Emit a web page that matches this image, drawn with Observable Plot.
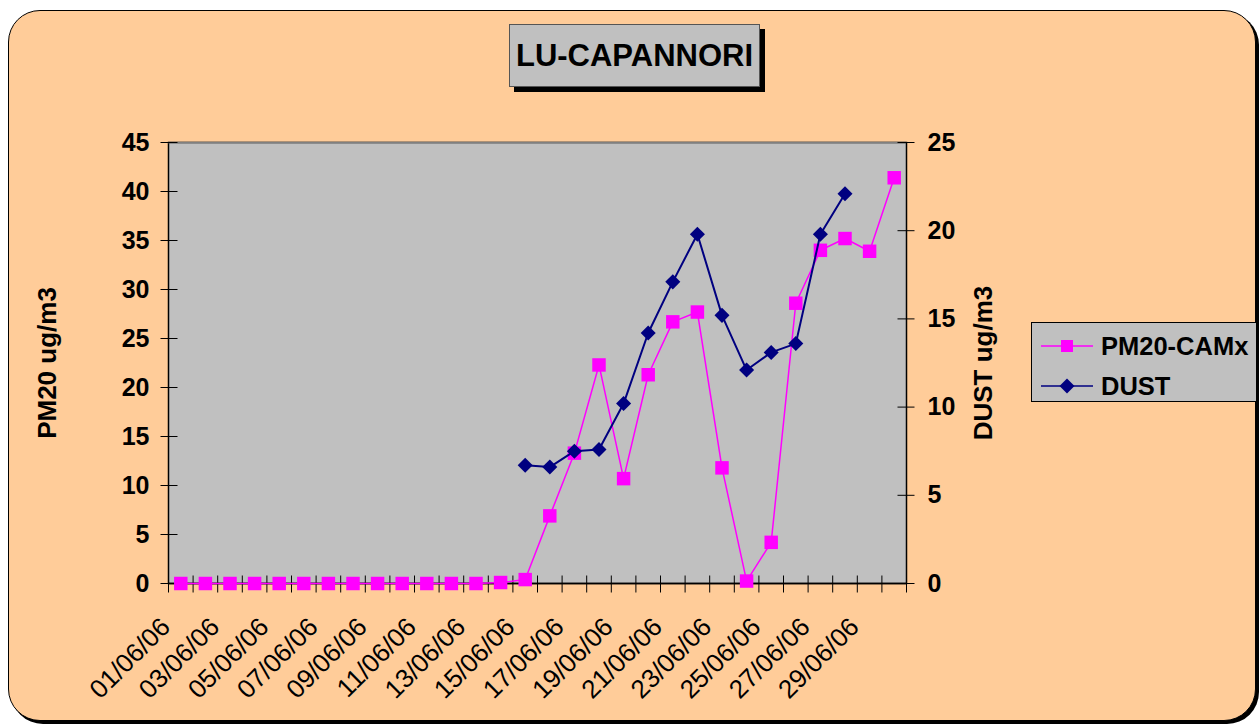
<!DOCTYPE html>
<html>
<head>
<meta charset="utf-8">
<script src="https://cdn.jsdelivr.net/npm/d3@7"></script>
<script src="https://cdn.jsdelivr.net/npm/@observablehq/plot@0.6"></script>
<style>
  html, body { margin: 0; padding: 0; background: #ffffff; }
  #wrap { position: relative; width: 1260px; height: 725px; overflow: hidden; font-family: "Liberation Sans", Arial, sans-serif; }
  #frame { position: absolute; left: 8px; top: 10px; width: 1246px; height: 709px; background: #FFCC99; border: 1.5px solid #000; border-radius: 32px; box-shadow: 3px 3px 0 #000; }
  #chart { position: absolute; left: 0; top: 0; }
  #title { position: absolute; left: 509px; top: 24px; width: 249px; height: 61px; background: #C0C0C0; border: 1px solid #555; box-shadow: 5px 5px 0 #000; display: flex; align-items: center; justify-content: center; font-weight: bold; font-size: 31px; color: #000; }
  #legend { position: absolute; left: 1031px; top: 322px; width: 224px; height: 78px; background: #C0C0C0; border: 1.5px solid #000; }
  .lrow { position: absolute; left: 8px; height: 36px; display: flex; align-items: center; }
  .lrow span { font-weight: bold; font-size: 25.5px; margin-left: 7px; color: #000; }
</style>
</head>
<body>
<div id="wrap">
  <div id="frame"></div>
  <div id="chart"></div>
  <div id="title">LU-CAPANNORI</div>
  <div id="legend"></div>
</div>
<script>
const titleText = "LU-CAPANNORI";
const dates = ["01/06/06","02/06/06","03/06/06","04/06/06","05/06/06","06/06/06","07/06/06","08/06/06","09/06/06","10/06/06",
               "11/06/06","12/06/06","13/06/06","14/06/06","15/06/06","16/06/06","17/06/06","18/06/06","19/06/06","20/06/06",
               "21/06/06","22/06/06","23/06/06","24/06/06","25/06/06","26/06/06","27/06/06","28/06/06","29/06/06","30/06/06"];
const pm20 = [0,0,0,0,0,0,0,0,0,0,0,0,0,0.1,0.4,6.9,13.3,22.3,10.7,21.3,26.7,27.7,11.8,0.25,4.2,28.6,34.0,35.2,33.9,41.4];
const dust = [null,null,null,null,null,null,null,null,null,null,null,null,null,null,
              6.7,6.6,7.5,7.6,10.2,14.2,17.1,19.8,15.2,12.1,13.1,13.6,19.8,22.1,null,null];
const leftTicks = [0,5,10,15,20,25,30,35,40,45];
const rightTicks = [0,5,10,15,20,25];
const leftMax = 45, rightMax = 25;
const seriesNames = ["PM20-CAMx","DUST"];
const leftTitle = "PM20 ug/m3", rightTitle = "DUST ug/m3";
const pink = "#FF00FF", navy = "#000080";

const k = leftMax / rightMax;
const labelDates = dates.filter((d, i) => i % 2 === 0);
const pmData = dates.map((d, i) => ({date: d, v: pm20[i]}));
const dustData = dates.map((d, i) => ({date: d, v: dust[i] == null ? null : dust[i] * k}));

const diamond = {draw(ctx, size) { const a = Math.sqrt(size / 2); ctx.moveTo(0, -a); ctx.lineTo(a, 0); ctx.lineTo(0, a); ctx.lineTo(-a, 0); ctx.closePath(); }};
const hTick = {draw(ctx) { ctx.moveTo(-8, 0); ctx.lineTo(9, 0); }};
const hTickR = {draw(ctx) { ctx.moveTo(-9, 0); ctx.lineTo(8, 0); }};
const vTick = {draw(ctx) { ctx.moveTo(0, -8); ctx.lineTo(0, 9); }};

const W = 1260, H = 725, mL = 168, mR = 354, mT = 142, mB = 142;
const half = (W - mL - mR) / dates.length / 2;

const chart = Plot.plot({
  width: W, height: H,
  marginLeft: mL, marginRight: mR, marginTop: mT, marginBottom: mB,
  style: {background: "transparent", fontFamily: "'Liberation Sans', Arial, sans-serif", color: "#000", overflow: "visible"},
  x: {type: "point", domain: dates, padding: 0.5, round: false, axis: null},
  y: {domain: [0, leftMax], axis: null},
  marks: [
    Plot.frame({fill: "#C0C0C0", stroke: "#000", strokeWidth: 1.5}),
    Plot.ruleY([leftMax], {stroke: "#808080", strokeWidth: 1.5}),
    // left axis ticks & labels
    Plot.dot(leftTicks, {y: d => d, frameAnchor: "left", symbol: hTick, stroke: "#000", strokeWidth: 1, fill: "none"}),
    Plot.text(leftTicks, {y: d => d, frameAnchor: "left", dx: -19, textAnchor: "end", fontSize: 25, fontWeight: "bold", fill: "#000", text: d => String(d)}),
    // right axis ticks & labels
    Plot.dot(rightTicks, {y: d => d * k, frameAnchor: "right", symbol: hTickR, stroke: "#000", strokeWidth: 1, fill: "none"}),
    Plot.text(rightTicks, {y: d => d * k, frameAnchor: "right", dx: 21, textAnchor: "start", fontSize: 25, fontWeight: "bold", fill: "#000", text: d => String(d)}),
    // x boundary ticks
    Plot.dot(dates, {x: d => d, frameAnchor: "bottom", dx: -half, symbol: vTick, stroke: "#000", strokeWidth: 1, fill: "none"}),
    Plot.dot([dates[dates.length - 1]], {x: d => d, frameAnchor: "bottom", dx: half, symbol: vTick, stroke: "#000", strokeWidth: 1, fill: "none"}),
    Plot.ruleY([0], {stroke: "#000", strokeWidth: 1.5}),
    // x labels
    Plot.text(labelDates, {x: d => d, frameAnchor: "bottom", rotate: -45, textAnchor: "end", dx: -9, dy: 45, fontSize: 26, fill: "#000", text: d => d}),
    // axis titles
    Plot.text([leftTitle], {frameAnchor: "left", dx: -121, rotate: -90, textAnchor: "middle", fontSize: 26, fontWeight: "bold", fill: "#000", text: d => d}),
    Plot.text([rightTitle], {frameAnchor: "right", dx: 77, rotate: -90, textAnchor: "middle", fontSize: 26, fontWeight: "bold", fill: "#000", text: d => d}),
    // series
    Plot.line(pmData, {x: "date", y: "v", stroke: pink, strokeWidth: 1.5}),
    Plot.dot(pmData, {x: "date", y: "v", symbol: "square", r: 7.6, fill: pink, stroke: "none"}),
    Plot.line(dustData, {x: "date", y: "v", stroke: navy, strokeWidth: 2}),
    Plot.dot(dustData.filter(d => d.v != null), {x: "date", y: "v", symbol: diamond, r: 6, fill: navy, stroke: "none"})
  ]
});
document.getElementById("chart").appendChild(chart);

// legend
const legend = document.getElementById("legend");
const legendSymbols = [
  `<svg width="54" height="20"><line x1="1" y1="10" x2="53" y2="10" stroke="${pink}" stroke-width="1.5"/><rect x="21" y="4" width="12" height="12" fill="${pink}"/></svg>`,
  `<svg width="54" height="20"><line x1="1" y1="10" x2="53" y2="10" stroke="${navy}" stroke-width="1.5"/><path d="M27,2.5L34.5,10L27,17.5L19.5,10Z" fill="${navy}"/></svg>`
];
seriesNames.forEach((name, i) => {
  const row = document.createElement("div");
  row.className = "lrow";
  row.style.top = (i === 0 ? 5 : 45) + "px";
  row.innerHTML = legendSymbols[i] + `<span>${name}</span>`;
  legend.appendChild(row);
});
document.getElementById("title").textContent = titleText;
</script>
</body>
</html>
